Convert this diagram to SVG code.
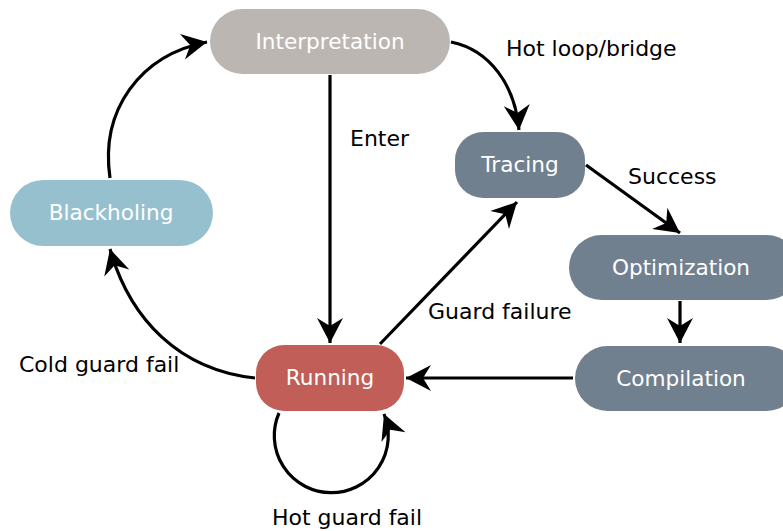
<svg xmlns="http://www.w3.org/2000/svg" width="783" height="531" viewBox="0 0 783 531">
  <style>
    .node text { font-family: "DejaVu Sans", sans-serif; font-size: 21.6px; fill: #ffffff; text-anchor: middle; }
    .label { font-family: "DejaVu Sans", sans-serif; font-size: 22px; fill: #000000; }
    .edge { fill: none; stroke: #000000; stroke-width: 3.2; marker-end: url(#head); }
    .interp { fill: #bcb6b2; }
    .slate { fill: #71808e; }
    .run { fill: #c15e58; }
    .hole { fill: #97c0cf; }
  </style>
  <defs>
    <marker id="head" markerUnits="userSpaceOnUse" viewBox="-28 -15 29 30" refX="0" refY="0" markerWidth="29" markerHeight="30" orient="auto">
      <path d="M0,0 L-25,-13 L-17,0 L-25,13 Z" fill="#000000"/>
    </marker>
  </defs>

  <g id="connectors">
    <path class="edge" d="M110,178 C100,110 140,55 207,42"/>
    <path class="edge" d="M451,42 C490,50 515,85 519,130"/>
    <path class="edge" d="M330,75 L330,343"/>
    <path class="edge" d="M586,165 L680,233"/>
    <path class="edge" d="M680,301 L680,343"/>
    <path class="edge" d="M573,378 L406,378"/>
    <path class="edge" d="M380,344 L517,202"/>
    <path class="edge" d="M255,378 C180,370 130,320 110,249"/>
    <path class="edge" d="M279,413 A57,57 0 1 0 384,414"/>
  </g>

  <g id="edge-labels">
    <text class="label" x="506" y="56">Hot loop/bridge</text>
    <text class="label" x="350" y="146">Enter</text>
    <text class="label" x="628" y="184">Success</text>
    <text class="label" x="428" y="319">Guard failure</text>
    <text class="label" x="19" y="372">Cold guard fail</text>
    <text class="label" x="272" y="525">Hot guard fail</text>
  </g>

  <g id="interpretation" class="node">
    <rect class="interp" x="210" y="9" width="240" height="65" rx="32.5"/>
    <text x="330" y="49">Interpretation</text>
  </g>
  <g id="tracing" class="node">
    <rect class="slate" x="455" y="132" width="130" height="66" rx="28"/>
    <text x="520" y="172">Tracing</text>
  </g>
  <g id="optimization" class="node">
    <rect class="slate" x="569" y="235" width="230" height="65" rx="32.5"/>
    <text x="681" y="275">Optimization</text>
  </g>
  <g id="compilation" class="node">
    <rect class="slate" x="575" y="346" width="224" height="65" rx="32.5"/>
    <text x="681" y="386">Compilation</text>
  </g>
  <g id="running" class="node">
    <rect class="run" x="256" y="345" width="148" height="66" rx="28"/>
    <text x="330" y="385">Running</text>
  </g>
  <g id="blackholing" class="node">
    <rect class="hole" x="10" y="180" width="203" height="66" rx="33"/>
    <text x="111" y="220">Blackholing</text>
  </g>
</svg>
